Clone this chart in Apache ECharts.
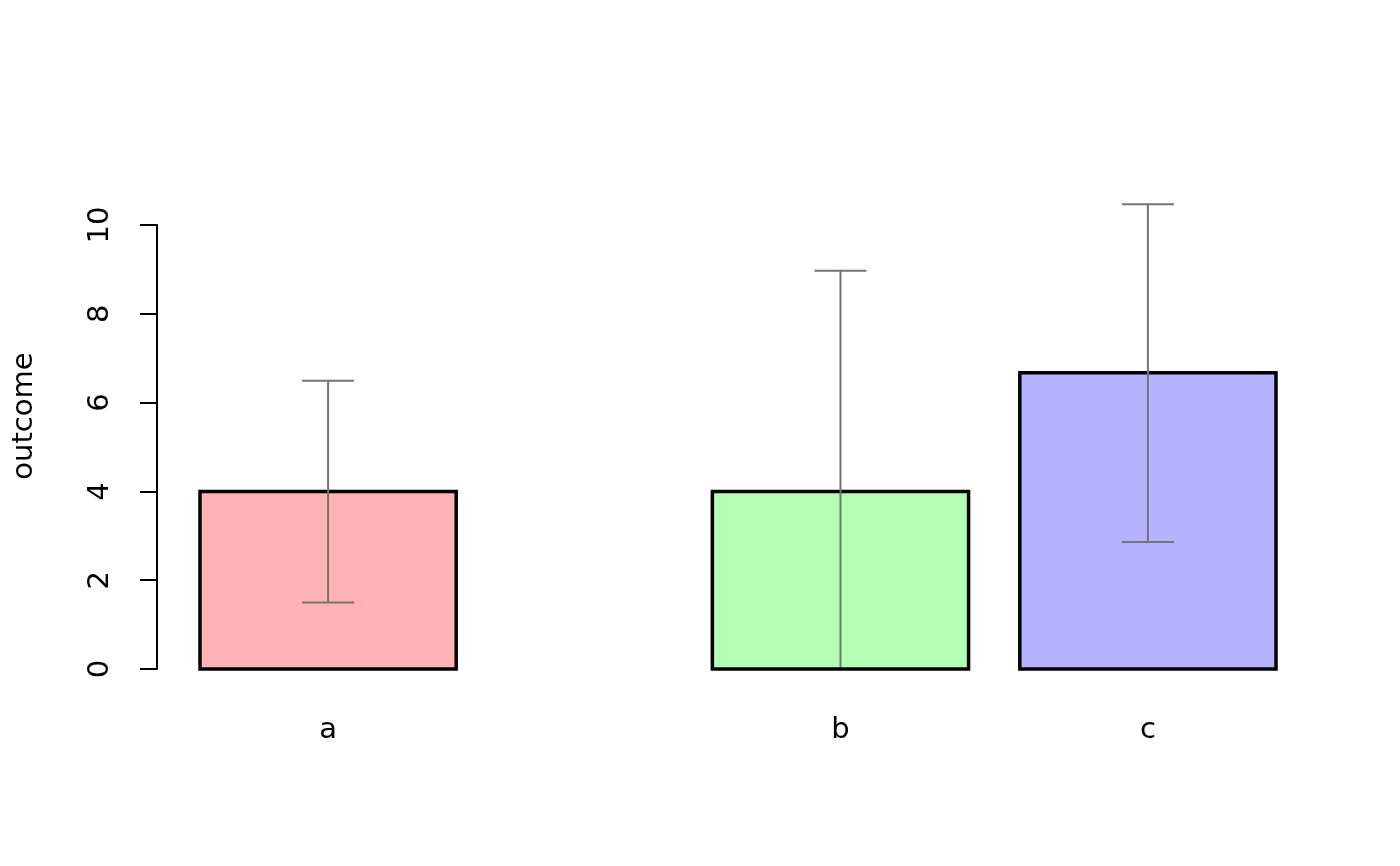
<!DOCTYPE html>
<html>
<head>
<meta charset="utf-8">
<script src="https://cdn.jsdelivr.net/npm/echarts@6/dist/echarts.min.js"></script>
<style>
  html, body { margin: 0; padding: 0; background: #fff; }
  #chart { width: 1400px; height: 866px; }
</style>
</head>
<body>
<div id="chart"></div>
<script>
// bar groups: a, (gap), b, c  -- positions in barplot units
var categories = ['a', 'b', 'c'];
var positions = [0.7, 2.7, 3.9];
var means = [4, 4, 6.67];
var lower = [1.5, 0, 2.86];
var upper = [6.49, 8.97, 10.47];
var yTicks = [0, 2, 4, 6, 8, 10];
var barColors = ['#FFB3B3', '#B3FFB3', '#B3B3FF'];

function build(){
    var barData = [], errData = [];
    for (var i = 0; i < categories.length; i++) {
        barData.push([positions[i], means[i], i]);
        errData.push([positions[i], lower[i], upper[i]]);
    }

    var option = {
        backgroundColor: '#FFFFFF',
        animation: false,
        grid: { left: 200, right: 124, top: 225, bottom: 197 },
        xAxis: {
            type: 'value',
            min: 0.2,
            max: 4.4,
            splitLine: { show: false },
            axisLine: { show: false },
            axisTick: { show: false },
            axisLabel: {
                customValues: positions,
                formatter: function (v) {
                    var idx = positions.indexOf(v);
                    return idx >= 0 ? categories[idx] : '';
                },
                margin: 47,
                fontSize: 29,
                fontFamily: 'DejaVu Sans',
                color: '#000'
            }
        },
        yAxis: {
            type: 'value',
            min: 0,
            max: 10,
            interval: 2,
            offset: 43,
            name: 'outcome',
            nameLocation: 'middle',
            nameRotate: 90,
            nameGap: 118,
            nameTextStyle: {
                fontSize: 29, fontFamily: 'DejaVu Sans', color: '#000',
                padding: [0, 0, 0, 62]
            },
            splitLine: { show: false },
            axisLine: { show: true, lineStyle: { color: '#000', width: 2 } },
            axisTick: { show: true, length: 17, lineStyle: { color: '#000', width: 2 } },
            axisLabel: {
                rotate: 90,
                margin: 42,
                fontSize: 29,
                fontFamily: 'DejaVu Sans',
                color: '#000',
                customValues: yTicks
            }
        },
        series: [{
            type: 'custom',
            clip: false,
            data: barData,
            renderItem: function (params, api) {
                var x = api.value(0);
                var top = api.coord([x - 0.5, api.value(1)]);
                var bot = api.coord([x + 0.5, 0]);
                return {
                    type: 'rect',
                    shape: { x: top[0], y: top[1], width: bot[0] - top[0], height: bot[1] - top[1] },
                    style: { fill: barColors[api.value(2)], stroke: '#000', lineWidth: 3.5 }
                };
            }
        }, {
            type: 'custom',
            clip: false,
            data: errData,
            renderItem: function (params, api) {
                var x = api.value(0);
                var lo = api.coord([x, api.value(1)]);
                var hi = api.coord([x, api.value(2)]);
                var cap = 26;
                var st = { stroke: '#737373', lineWidth: 2 };
                var kids = [
                    { type: 'line', shape: { x1: lo[0], y1: lo[1], x2: hi[0], y2: hi[1] }, style: st },
                    { type: 'line', shape: { x1: hi[0] - cap, y1: hi[1], x2: hi[0] + cap, y2: hi[1] }, style: st }
                ];
                // lower cap sitting on the baseline is hidden under the bar edge
                if (api.value(1) > 0) {
                    kids.push({ type: 'line', shape: { x1: lo[0] - cap, y1: lo[1], x2: lo[0] + cap, y2: lo[1] }, style: st });
                } else {
                    kids[0].shape.y1 = lo[1] - 2;
                }
                return { type: 'group', children: kids };
            }
        }]
    };
    var myChart = echarts.init(document.getElementById('chart'));
    myChart.setOption(option);
}

build();
</script>
</body>
</html>
